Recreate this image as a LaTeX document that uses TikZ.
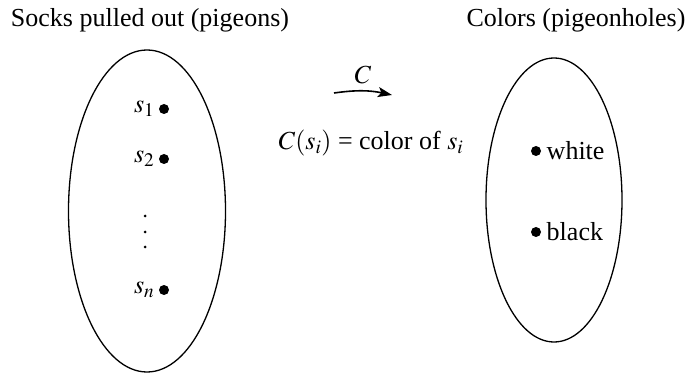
\documentclass[tikz,border=0pt]{standalone}
\usepackage{mathptmx}
\usepackage{fontspec}
\setmainfont{Liberation Serif}
\usetikzlibrary{arrows.meta,positioning,shapes.geometric}

\begin{document}
\begin{tikzpicture}[
  x=1pt, y=-1pt,
  font=\fontsize{26}{30}\selectfont,
  set/.style={draw, ellipse, line width=1.3pt, inner sep=0pt},
  elem/.style={circle, fill, inner sep=0pt, minimum size=10pt},
  vdot/.style={circle, fill, inner sep=0pt, minimum size=3pt},
  map/.style={-{Stealth[length=14pt,width=10pt,inset=3pt]}, line width=1.6pt}
]
\useasboundingbox (0,0) rectangle (691,374);
\node[set, minimum width=157pt, minimum height=322pt] (socks) at (147,211) {};
\node[set, minimum width=136pt, minimum height=284pt] (colors) at (554,200) {};
\node (tl) at (150,20) {Socks pulled out (pigeons)};
\node (tr) at (576,20) {Colors (pigeonholes)};
% pigeons
\node[elem] (s1) at (164,109) {};
\node[elem] (s2) at (164,159) {};
\node[elem] (sn) at (164,290) {};
\node[left=1pt of s1] {$s_1$};
\node[left=1pt of s2] {$s_2$};
\node[left=1pt of sn] {$s_n$};
\node[vdot] (d1) at (145,216) {};
\node[vdot] (d2) at (145,232) {};
\node[vdot] (d3) at (145,247) {};
% pigeonholes
\node[elem] (w) at (536,151) {};
\node[elem] (b) at (536,232) {};
\node[right=2pt of w] {white};
\node[right=2pt of b] {black};
% the map
\coordinate (from) at (334,93);
\coordinate (to) at (392,95);
\draw[map] (from) to[bend left=10] node[above=3pt] {$C$} (to);
\node (rule) at (371,143) {$C(s_i)$ = color of $s_i$};
\end{tikzpicture}
\end{document}
